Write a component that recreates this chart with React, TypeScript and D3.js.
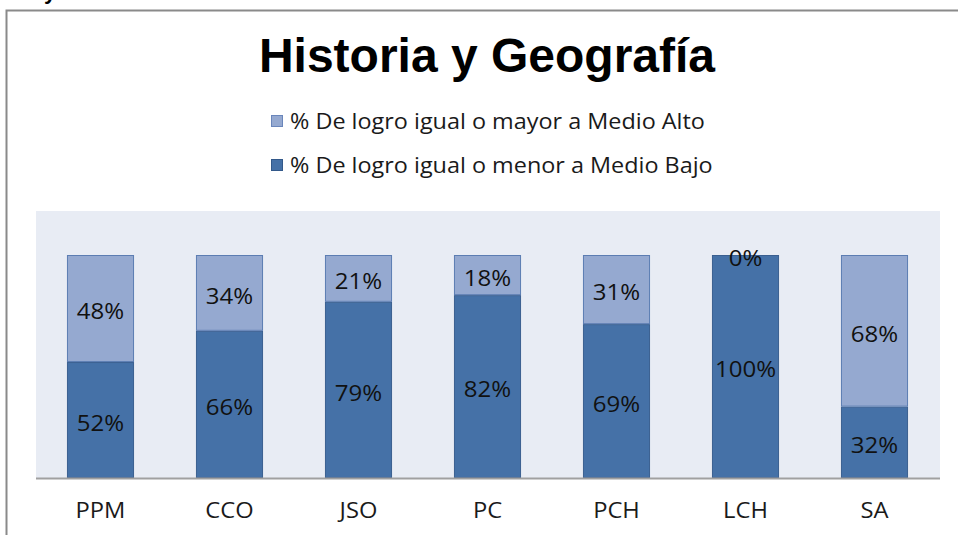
import * as d3 from "d3";
import React, { useEffect, useRef } from "react";

const categories = ["PPM", "CCO", "JSO", "PC", "PCH", "LCH", "SA"];
const lowValues = [52, 66, 79, 82, 69, 100, 32];
const highValues = [48, 34, 21, 18, 31, 0, 68];
const seriesNames = [
  "% De logro igual o mayor a Medio Alto",
  "% De logro igual o menor a Medio Bajo",
];
const title = "Historia y Geografía";

function App() {
  const ref = useRef<HTMLDivElement>(null);

  const width = 958;
  const height = 535;
  const plot = { left: 36, right: 940, top: 211, bottom: 478 };
  const lightFill = "#95a9d0";
  const darkFill = "#4571a7";
  const labelFont = "'Open Sans', sans-serif";

  useEffect(() => {
    document.body.style.margin = "0";
    draw();
  }, []);

  function draw() {
    d3.select(ref.current).selectAll("svg").remove();

    const svg = d3
      .select(ref.current)
      .append("svg")
      .attr("width", width)
      .attr("height", height)
      .style("display", "block")
      .style("background", "#ffffff");

    // fragment of text cut off at the top of the screenshot
    svg
      .append("text")
      .attr("x", 44)
      .attr("y", -1)
      .style("font-family", "'Liberation Sans', Arial, sans-serif")
      .style("font-weight", "bold")
      .style("font-size", "22px")
      .text("y");

    // outer frame
    svg
      .append("path")
      .attr("d", `M958,10.5 H6.5 V${height}`)
      .attr("fill", "none")
      .attr("stroke", "#8a8a8a")
      .attr("stroke-width", 2);

    svg
      .append("text")
      .attr("x", 487)
      .attr("y", 72)
      .attr("text-anchor", "middle")
      .style("font-family", "'Liberation Sans', Arial, sans-serif")
      .style("font-weight", "bold")
      .style("font-size", "48px")
      .style("fill", "#000")
      .text(title);

    // legend
    const legend = svg.append("g");
    const legendRows = [
      { name: seriesNames[0], fill: lightFill, stroke: "#6a86bb", y: 121 },
      { name: seriesNames[1], fill: darkFill, stroke: "#33598a", y: 165 },
    ];
    legendRows.forEach((r) => {
      legend
        .append("rect")
        .attr("x", 271.5)
        .attr("y", r.y - 5.5)
        .attr("width", 11)
        .attr("height", 11)
        .attr("fill", r.fill)
        .attr("stroke", r.stroke)
        .attr("stroke-width", 1);
      legend
        .append("text")
        .attr("transform", `translate(290,${r.y}) scale(1.064,1)`)
        .attr("dy", "0.36em")
        .style("font-family", labelFont)
        .style("font-size", "22px")
        .style("fill", "#1a1a1a")
        .text(r.name);
    });

    const x = d3
      .scaleBand()
      .domain(categories)
      .range([plot.left, plot.right - 1])
      .paddingInner(0.48)
      .paddingOuter(0.24);

    const y = d3.scaleLinear().domain([0, 100]).range([plot.bottom, 255]);

    svg
      .append("rect")
      .attr("x", plot.left)
      .attr("y", plot.top)
      .attr("width", plot.right - plot.left)
      .attr("height", plot.bottom - plot.top)
      .attr("fill", "#e8ecf4");

    const rows = categories.map((c, i) => ({
      cat: c,
      low: lowValues[i],
      high: highValues[i],
    }));

    const stack = d3.stack<any>().keys(["low", "high"])(rows);

    const segFill = [darkFill, lightFill];
    const segStroke = ["#3a5f90", "#5c7db2"];

    stack.forEach((layer, li) => {
      svg
        .append("g")
        .selectAll("rect")
        .data(layer)
        .enter()
        .append("rect")
        .attr("x", (d) => x(d.data.cat)! + 0.5)
        .attr("y", (d) => y(d[1]) + 0.5)
        .attr("width", x.bandwidth() - 1)
        .attr("height", (d) => Math.max(0, y(d[0]) - y(d[1]) - 1))
        .attr("fill", segFill[li])
        .attr("stroke", segStroke[li])
        .attr("stroke-width", 1);
    });

    stack.forEach((layer) => {
      svg
        .append("g")
        .selectAll("text")
        .data(layer)
        .enter()
        .append("text")
        .attr(
          "transform",
          (d) =>
            `translate(${x(d.data.cat)! + x.bandwidth() / 2},${
              (y(d[0]) + y(d[1])) / 2 + 3
            }) scale(1.12,1)`
        )
        .attr("dy", "0.36em")
        .attr("text-anchor", "middle")
        .style("font-family", labelFont)
        .style("font-size", "21.5px")
        .style("fill", "#111")
        .text((d) => `${d[1] - d[0]}%`);
    });

    const xAxis = d3.axisBottom(x).tickSize(0).tickPadding(25);
    const gx = svg
      .append("g")
      .attr("transform", `translate(0,${plot.bottom})`)
      .call(xAxis);
    gx.select(".domain")
      .attr("d", `M${plot.left},0.5H${plot.right}`)
      .attr("stroke", "#a0a0a0")
      .attr("stroke-width", 2);
    gx.selectAll("text")
      .attr("transform", "scale(1.13,1)")
      .style("font-family", labelFont)
      .style("font-size", "21px")
      .style("fill", "#1a1a1a");
  }

  return <div ref={ref} />;
}

export default App;
